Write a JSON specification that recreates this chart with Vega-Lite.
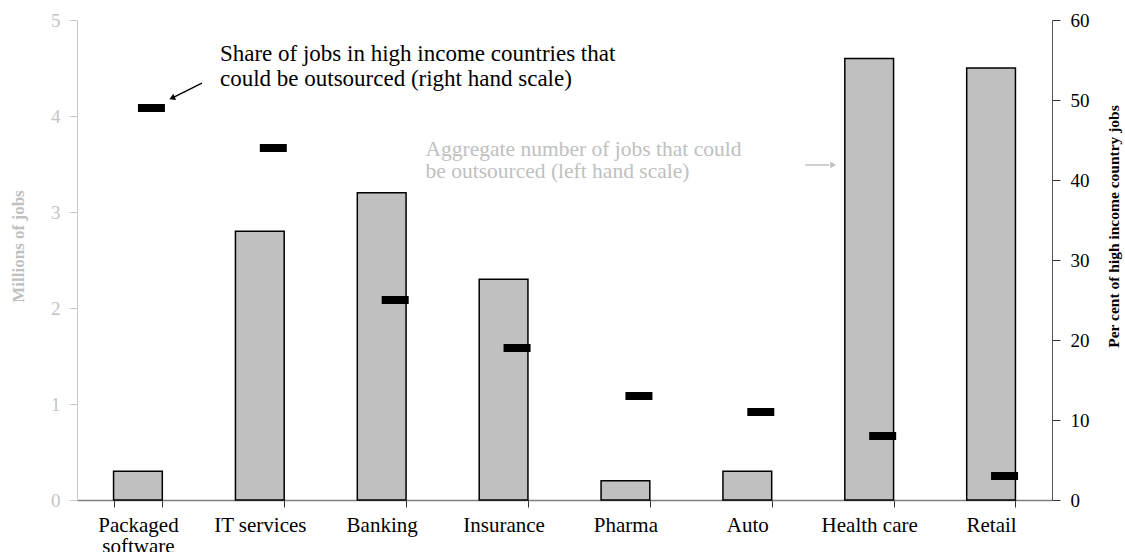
{
  "$schema": "https://vega.github.io/schema/vega-lite/v6.json",
  "width": 975,
  "height": 480,
  "autosize": {"type": "none"},
  "padding": {"left": 77, "top": 20, "right": 73, "bottom": 52},
  "config": {
    "font": "Liberation Serif",
    "view": {"stroke": null},
    "axis": {"grid": false}
  },
  "datasets": {
    "industries": [
      {"industry": "Packaged software", "jobs": 0.3, "share": 49},
      {"industry": "IT services", "jobs": 2.8, "share": 44},
      {"industry": "Banking", "jobs": 3.2, "share": 25},
      {"industry": "Insurance", "jobs": 2.3, "share": 19},
      {"industry": "Pharma", "jobs": 0.2, "share": 13},
      {"industry": "Auto", "jobs": 0.3, "share": 11},
      {"industry": "Health care", "jobs": 4.6, "share": 8},
      {"industry": "Retail", "jobs": 4.5, "share": 3}
    ],
    "leftNotes": [
      {"industry": "Insurance", "jobs": 3.646, "note": "Aggregate number of jobs that could"},
      {"industry": "Insurance", "jobs": 3.417, "note": "be outsourced (left hand scale)"}
    ],
    "leftArrow": [
      {"industry": "Health care", "jobs": 3.49, "jobs2": 3.49}
    ],
    "rightNotes": [
      {"industry": "Packaged software", "share": 55.75, "note": "Share of jobs in high income countries that"},
      {"industry": "Packaged software", "share": 52.6, "note": "could be outsourced (right hand scale)"}
    ],
    "rightArrow": [
      {"industry": "Packaged software", "share": 52.1, "share2": 50.3}
    ]
  },
  "encoding": {
    "x": {
      "field": "industry",
      "type": "nominal",
      "title": null,
      "scale": {
        "domain": ["Packaged software", "IT services", "Banking", "Insurance", "Pharma", "Auto", "Health care", "Retail"],
        "paddingInner": 0.6,
        "paddingOuter": 0.3
      },
      "axis": {
        "domainColor": "#808080",
        "domainWidth": 1.5,
        "tickColor": "#333333",
        "tickSize": 7,
        "tickBand": "extent",
        "labelAngle": 0,
        "labelFontSize": 21,
        "labelColor": "#000000",
        "labelPadding": 7,
        "labelLineHeight": 21,
        "labelExpr": "datum.value == 'Packaged software' ? ['Packaged', 'software'] : datum.label"
      }
    }
  },
  "layer": [
    {
      "encoding": {
        "y": {
          "field": "jobs",
          "type": "quantitative",
          "scale": {"domain": [0, 5]},
          "axis": {
            "orient": "left",
            "values": [0, 1, 2, 3, 4, 5],
            "domainColor": "#c8c8c8",
            "tickColor": "#c8c8c8",
            "tickSize": 8,
            "labelPadding": 9,
            "labelFontSize": 19,
            "labelColor": "#c4c4c4",
            "title": "Millions of jobs",
            "titleFontSize": 17,
            "titleFontWeight": "bold",
            "titleColor": "#c0c0c0",
            "titleX": -50,
            "titleY": 226
          }
        }
      },
      "layer": [
        {
          "data": {"name": "industries"},
          "mark": {"type": "bar", "fill": "#c0c0c0", "stroke": "#000000", "strokeWidth": 1.5}
        },
        {
          "data": {"name": "leftNotes"},
          "mark": {"type": "text", "align": "left", "baseline": "middle", "dx": -78, "fontSize": 21.5, "color": "#c0c0c0"},
          "encoding": {"text": {"field": "note"}}
        },
        {
          "data": {"name": "leftArrow"},
          "mark": {"type": "rule", "color": "#c0c0c0", "strokeWidth": 1.5, "xOffset": -64, "x2Offset": -40},
          "encoding": {"x2": {"field": "industry"}, "y2": {"field": "jobs2"}}
        },
        {
          "data": {"name": "leftArrow"},
          "mark": {"type": "point", "shape": "triangle", "angle": 90, "size": 45, "filled": true, "opacity": 1, "color": "#c0c0c0", "strokeWidth": 0, "xOffset": -37}
        }
      ]
    },
    {
      "encoding": {
        "y": {
          "field": "share",
          "type": "quantitative",
          "scale": {"domain": [0, 60]},
          "axis": {
            "orient": "right",
            "values": [0, 10, 20, 30, 40, 50, 60],
            "domainColor": "#555555",
            "tickColor": "#333333",
            "tickSize": 8,
            "labelPadding": 10,
            "labelFontSize": 19,
            "labelColor": "#000000",
            "title": "Per cent of high income country jobs",
            "titleFontSize": 15.5,
            "titleFontWeight": "bold",
            "titleColor": "#000000",
            "titleAngle": 270,
            "titleX": 69,
            "titleY": 206
          }
        }
      },
      "layer": [
        {
          "data": {"name": "industries"},
          "mark": {"type": "tick", "color": "#000000", "opacity": 1, "thickness": 8, "size": 27, "xOffset": 13.5}
        },
        {
          "data": {"name": "rightNotes"},
          "mark": {"type": "text", "align": "left", "baseline": "middle", "dx": 82, "fontSize": 23, "color": "#000000"},
          "encoding": {"text": {"field": "note"}}
        },
        {
          "data": {"name": "rightArrow"},
          "mark": {"type": "rule", "color": "#000000", "strokeWidth": 1.5, "xOffset": 64, "x2Offset": 35},
          "encoding": {"x2": {"field": "industry"}, "y2": {"field": "share2"}}
        },
        {
          "data": {"name": "rightArrow"},
          "mark": {"type": "point", "shape": "triangle", "angle": 246, "size": 45, "filled": true, "opacity": 1, "color": "#000000", "strokeWidth": 0, "xOffset": 35},
          "encoding": {"y": {"field": "share2", "type": "quantitative"}}
        }
      ]
    }
  ],
  "resolve": {"scale": {"y": "independent"}}
}
